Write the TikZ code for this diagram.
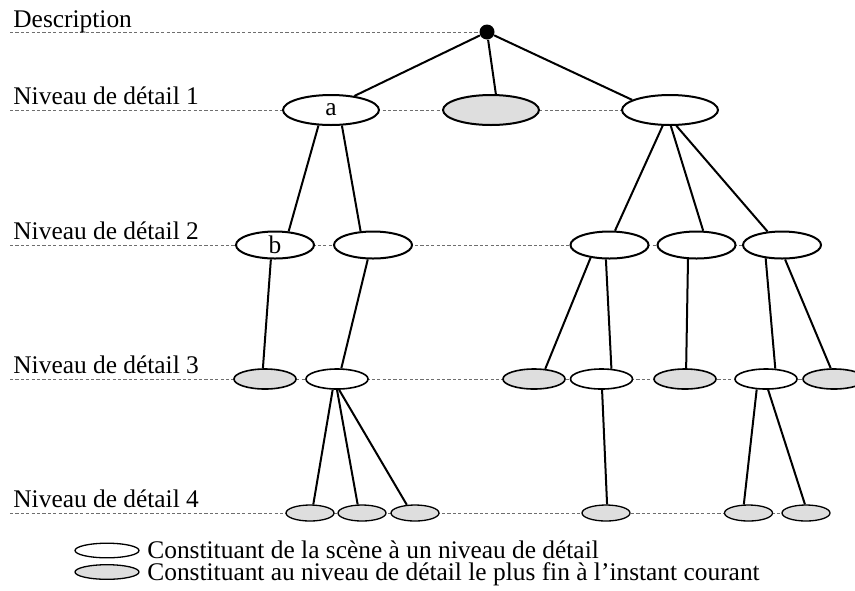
\documentclass[tikz,border=0pt]{standalone}
\usepackage{fontspec}
\setmainfont{Liberation Serif}
\usetikzlibrary{shapes.geometric,backgrounds}

\definecolor{gris}{RGB}{222,222,222}
\definecolor{pointgris}{RGB}{110,110,110}

\tikzset{
  constit/.style={ellipse, draw, fill=white, line width=1pt, inner sep=0pt},
  fin/.style={constit, fill=gris},
  niv1/.style={minimum width=48pt, minimum height=15pt},
  niv2/.style={minimum width=39pt, minimum height=13.5pt},
  niv3/.style={minimum width=31pt, minimum height=10pt, line width=0.8pt},
  niv4/.style={minimum width=24pt, minimum height=8pt, line width=0.65pt},
  legende/.style={minimum width=32pt, minimum height=7.3pt, line width=0.65pt},
  arete/.style={line width=1pt},
  pointille/.style={draw=pointgris, line width=0.5pt, dash pattern=on 1.6pt off 1.1pt},
  etiquette/.style={anchor=base west, inner sep=0pt}
}

\begin{document}
\begin{tikzpicture}[x=0.5pt, y=-0.5pt, font=\fontsize{12.7pt}{15pt}\selectfont]
\useasboundingbox (0,0) rectangle (855,590);

% Level labels
\node[etiquette] (tdesc) at (13,27) {Description};
\node[etiquette] (tniv1) at (13,104) {Niveau de détail 1};
\node[etiquette] (tniv2) at (13,239) {Niveau de détail 2};
\node[etiquette] (tniv3) at (13,373) {Niveau de détail 3};
\node[etiquette] (tniv4) at (13,507) {Niveau de détail 4};

% Root of the description
\node[circle, fill=black, inner sep=0pt, minimum size=7.5pt] (racine) at (487,32) {};

% Niveau 1
\node[constit, niv1] (a) at (331,110) {a};
\node[fin, niv1] (m1) at (491,110) {};
\node[constit, niv1] (d1) at (670,110) {};

% Niveau 2
\node[constit, niv2] (b) at (275,245) {b};
\node[constit, niv2] (c2) at (373,245) {};
\node[constit, niv2] (r1) at (609.5,245) {};
\node[constit, niv2] (r2) at (696.5,245) {};
\node[constit, niv2] (r3) at (782,245) {};

% Niveau 3
\node[fin, niv3] (b3) at (265,379) {};
\node[constit, niv3] (c3) at (337,379) {};
\node[fin, niv3] (g3a) at (534,379) {};
\node[constit, niv3] (w3a) at (601.5,379) {};
\node[fin, niv3] (g3b) at (685,379) {};
\node[constit, niv3] (w3b) at (766,379) {};
\node[fin, niv3] (g3c) at (834,379) {};

% Niveau 4
\node[fin, niv4] (g4a) at (310,513) {};
\node[fin, niv4] (g4b) at (362,513) {};
\node[fin, niv4] (g4c) at (415,513) {};
\node[fin, niv4] (g4d) at (606,513) {};
\node[fin, niv4] (g4e) at (748.5,513) {};
\node[fin, niv4] (g4f) at (806,513) {};

% Dotted level lines (behind the nodes)
\coordinate (p0) at (10,32);
\coordinate (p1) at (10,110);
\coordinate (p2) at (10,245);
\coordinate (p3) at (10,379);
\coordinate (p4) at (10,513);
\begin{scope}[on background layer]
  \draw[pointille] (p0) -- (racine);
  \draw[pointille] (p1) -- (d1.west);
  \draw[pointille] (p2) -- (r3.west);
  \draw[pointille] (p3) -- (g3c.west);
  \draw[pointille] (p4) -- (g4f.west);
\end{scope}

% Edges of the tree
\draw[arete] (racine) -- (a.31);
\draw[arete] (racine) -- (m1.73);
\draw[arete] (racine) -- (d1.165);

\draw[arete] (a.231) -- (b.45);
\draw[arete] (a.305) -- (c2.132);
\draw[arete] (b.254) -- (b3.101);
\draw[arete] (c2.250) -- (c3.68);
\draw[arete] (c3.248) -- (g4a.69);
\draw[arete] (c3.270) -- (g4b.117);
\draw[arete] (c3.281) -- (g4c.135);

\draw[arete] (d1.245) -- (r1.69);
\draw[arete] (d1.273) -- (r2.65);
\draw[arete] (d1.292) -- (r3.137);
\draw[arete] (r1.214) -- (g3a.42);
\draw[arete] (r1.256) -- (w3a.46);
\draw[arete] (r2.239) -- (g3b.84);
\draw[arete] (r3.219) -- (w3b.48);
\draw[arete] (r3.282) -- (g3c.107);
\draw[arete] (w3a.273) -- (g4d.83);
\draw[arete] (w3b.228) -- (g4e.119);
\draw[arete] (w3b.281) -- (g4f.97);

% Legend
\node[constit, legende] (lblanc) at (107,550.5) {};
\node[fin, legende] (lgris) at (107,572) {};
\node[etiquette] (tblanc) at (147,558) {Constituant de la scène à un niveau de détail};
\node[etiquette] (tgris) at (147,580.5) {Constituant au niveau de détail le plus fin à l’instant courant};

\end{tikzpicture}
\end{document}
